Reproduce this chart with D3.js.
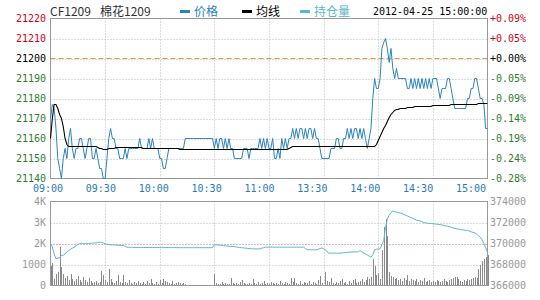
<!DOCTYPE html>
<html lang="zh">
<head>
  <meta charset="UTF-8" />
  <title>CF1209 分时</title>
  <style>
    body { margin: 0; background: #fff; }
    svg { display: block; }
    .mono { font-family: "DejaVu Sans Mono", monospace; font-size: 10px; }
  </style>
  <script src="https://cdn.jsdelivr.net/npm/d3@7"></script>
</head>
<body>
  <div id="chart"></div>

  <script>
    // tick labels
    const timeLabels = ['09:00', '09:30', '10:00', '10:30', '11:00', '13:30', '14:00', '14:30', '15:00'];
    const priceTicks = [21220, 21210, 21200, 21190, 21180, 21170, 21160, 21150, 21140];
    const pctLabels = ['+0.09%', '+0.05%', '+0.00%', '-0.05%', '-0.09%', '-0.14%', '-0.19%', '-0.24%', '-0.28%'];
    const volTicks = [4000, 3000, 2000, 1000, 0];
    const volLabels = ['4K', '3K', '2K', '1000', '0'];
    const oiTicks = [374000, 372000, 370000, 368000, 366000];
    const prevClose = 21200;
    const oiRef = 370000;

    // one value per trading minute, 09:00 .. 11:30 | 13:30 .. 15:00 (241 points)
    const price = [
      21170,21177,21175,21165,21150,21145,21140,21150,21155,21150,
      21160,21165,21155,21150,21155,21155,21160,21160,21155,21150,
      21155,21160,21160,21150,21150,21155,21150,21145,21145,21140,
      21140,21150,21160,21165,21160,21160,21155,21155,21150,21150,
      21150,21155,21150,21155,21155,21155,21155,21155,21155,21160,
      21155,21155,21155,21155,21160,21155,21160,21155,21155,21155,
      21150,21150,21145,21145,21150,21155,21155,21155,21155,21155,
      21155,21155,21155,21155,21160,21160,21160,21160,21160,21160,
      21160,21160,21160,21160,21160,21160,21160,21160,21160,21160,
      21155,21160,21155,21160,21160,21155,21160,21155,21160,21155,
      21155,21150,21150,21150,21150,21150,21155,21155,21155,21150,
      21155,21155,21155,21155,21155,21160,21155,21160,21155,21160,
      21155,21155,21160,21150,21150,21155,21150,21160,21155,21160,
      21155,21160,21160,21165,21160,21165,21160,21165,21165,21160,
      21165,21160,21165,21165,21160,21165,21160,21160,21155,21150,
      21150,21150,21150,21150,21155,21155,21155,21160,21160,21155,
      21155,21160,21160,21165,21160,21165,21160,21165,21165,21160,
      21165,21160,21165,21160,21155,21160,21165,21180,21190,21185,
      21185,21190,21205,21208,21210,21205,21198,21205,21195,21190,
      21195,21190,21190,21190,21190,21190,21185,21185,21190,21185,
      21190,21185,21190,21185,21190,21185,21190,21185,21190,21185,
      21190,21190,21190,21185,21180,21185,21185,21185,21190,21190,
      21185,21180,21175,21175,21175,21175,21175,21175,21175,21180,
      21180,21185,21185,21190,21190,21185,21180,21180,21177,21165,
      21165
    ];

    const avgPrice = [
      21160,21170,21177,21177,21175,21172,21170,21166,21160,21157,
      21156,21156,21156,21156,21156,21156,21156,21156,21156,21156,
      21156,21156,21156,21156,21156,21156,21155.5,21155,21155,21154.5,
      21154.5,21154.5,21155,21155,21155,21155,21155.5,21155.5,21155.5,21155.5,
      21155.5,21155.5,21155.5,21155.5,21155.5,21155.5,21155.5,21155.5,21155.5,21155.5,
      21155.5,21155,21155,21155,21155,21155,21155,21155,21155,21155,
      21155,21155,21155,21155,21155,21155,21155,21155,21155,21155,
      21155,21154.5,21154.5,21154.5,21154.5,21154.5,21154.5,21154.5,21154.5,21154.5,
      21154.5,21154.5,21154.5,21154.5,21154.5,21154.5,21154.5,21154.5,21154.5,21154.5,
      21154.5,21154.5,21154.5,21154.5,21154.5,21154.5,21154.5,21154.5,21154.5,21154.5,
      21154.5,21154.5,21154.5,21154.5,21154.5,21154.5,21154.5,21154.5,21154.5,21154.5,
      21154.5,21154.5,21154.5,21154.5,21154.5,21154.5,21154.5,21154.5,21154.5,21154.5,
      21154.5,21154.5,21154.5,21154.5,21154.5,21154.5,21154.5,21154.5,21154.5,21154.5,
      21154.5,21155,21155.5,21156,21156,21156,21156,21156,21156,21156,
      21156,21156,21156,21156,21156,21156,21156,21156,21156,21156,
      21156,21156,21156,21156,21156,21156,21156,21156,21156,21156,
      21156,21156,21156,21156,21156,21156,21156,21156,21156,21156,
      21156,21156,21156,21156,21156,21156,21156,21156,21156,21157,
      21159,21161,21163,21165,21166.5,21168.5,21170.5,21172,21173,21174,
      21174.5,21174.5,21175,21175,21175,21175,21175.5,21175.5,21175.5,21175.5,
      21176,21176,21176,21176,21176,21176,21176,21176,21176,21176,
      21176.5,21176.5,21176.5,21176.5,21176.5,21176.5,21176.5,21176.5,21176.5,21176.5,
      21177,21177,21177,21177,21177,21177,21177,21177,21177,21177,
      21177,21177,21177,21177,21177,21177.5,21177.5,21177.5,21177.5,21177.5,
      21177.5
    ];

    const openInterest = [
      370000,369700,369000,368550,368600,368650,368850,368880,369000,369200,
      369330,369450,369550,369650,369800,369900,369980,370030,370000,369980,
      369980,370000,370020,370040,370050,370050,370100,370120,370100,370050,
      369980,369920,369900,369880,369870,369860,369850,369840,369820,369810,
      369800,369750,369650,369640,369630,369630,369620,369620,369620,369620,
      369620,369620,369620,369620,369620,369620,369620,369620,369620,369620,
      369610,369610,369610,369610,369610,369610,369610,369610,369610,369610,
      369600,369600,369600,369600,369600,369600,369600,369600,369600,369600,
      369600,369600,369600,369600,369600,369600,369600,369600,369600,369600,
      369870,369860,369850,369840,369820,369800,369780,369760,369740,369720,
      369710,369700,369680,369650,369620,369600,369580,369560,369540,369520,
      369500,369500,369490,369490,369490,369490,369550,369600,369640,369650,
      369650,369650,369650,369650,369650,369650,369650,369650,369650,369650,
      369650,369650,369650,369650,369650,369650,369650,369650,369650,369650,
      369520,369420,369400,369400,369400,369400,369400,369450,369520,369580,
      369500,369400,369200,369080,369080,369080,369080,369080,369080,369080,
      369100,369120,369140,369160,369180,369180,369190,369200,369200,369200,
      369330,369200,369100,369000,368900,368800,368700,368900,369400,369450,
      369480,369500,369900,370290,371500,372350,372700,372950,373080,373050,
      373000,372950,372900,372850,372760,372700,372620,372540,372460,372380,
      372300,372220,372190,372150,372080,372000,371960,371930,371920,371900,
      371880,371860,371840,371820,371800,371760,371720,371680,371640,371600,
      371540,371480,371440,371400,371370,371340,371310,371280,371250,371240,
      371180,371120,371060,371010,370900,370750,370600,370350,370000,369600,
      369170
    ];

    const volume = [
      950,1050,300,560,640,1820,870,560,350,450,
      260,560,320,200,300,450,250,180,400,250,
      150,350,200,100,150,200,120,150,700,500,
      250,150,800,300,150,100,200,480,150,100,
      480,150,100,250,100,80,150,120,200,100,
      80,150,60,200,120,300,100,80,150,60,
      250,120,300,200,150,100,80,200,60,120,
      150,100,80,120,60,0,0,0,0,0,
      0,0,0,0,0,0,0,0,0,0,
      570,120,80,60,150,50,100,80,60,380,
      120,80,100,60,150,250,100,80,60,120,
      80,300,100,60,150,80,120,200,60,100,
      80,150,100,60,120,80,200,100,60,150,
      120,80,355,150,350,100,60,200,80,150,
      120,100,200,80,150,100,60,250,430,120,
      0,635,200,150,380,100,80,150,120,200,
      300,100,150,80,200,120,250,320,100,150,
      200,300,150,250,400,300,400,1240,950,500,
      600,300,1670,2780,3180,2380,650,450,400,300,
      350,250,300,200,350,250,500,200,300,250,
      200,300,150,250,200,350,150,200,250,150,
      200,150,250,200,150,200,300,200,150,250,
      300,350,400,400,300,200,150,250,200,300,
      250,300,350,400,350,800,1000,1190,1270,1350,
      1430
    ];

    const W = 540, H = 300;
    const left = 50.5, right = 487.5;
    const top1 = 18.5, bot1 = 178.5;
    const top2 = 201.5, bot2 = 285.5;

    const blue = '#2a84c0';
    const oiColor = '#5bb6cf';
    const gridColor = '#b8b8b8';
    const frameColor = '#999';
    const up = '#d0021b', down = '#2e7d2e';

    const svg = d3.select('#chart').append('svg')
      .attr('width', W)
      .attr('height', H);

    const x = d3.scaleLinear().domain([0, 240]).range([left, right]);
    const yP = d3.scaleLinear().domain([21140, 21220]).range([bot1, top1]);
    const yV = d3.scaleLinear().domain([0, 4000]).range([bot2, top2]);
    const yO = d3.scaleLinear().domain([366000, 374000]).range([bot2, top2]);
    const xLab = d3.scalePoint().domain(timeLabels).range([48, 471]);
    const gridMinutes = d3.range(30, 240, 30);

    // header
    const head = svg.append('g').attr('font-family', '"Noto Sans CJK SC", sans-serif').attr('font-size', 12);
    head.append('text').attr('x', 50).attr('y', 16).attr('fill', '#333').text('CF1209');
    head.append('text').attr('x', 100).attr('y', 16).attr('fill', '#333').text('棉花1209');

    const legend = [
      { name: '价格', color: blue, x: 180 },
      { name: '均线', color: '#000', x: 242 },
      { name: '持仓量', color: oiColor, x: 300 }
    ];
    legend.forEach(d => {
      head.append('rect').attr('x', d.x).attr('y', 10).attr('width', 10).attr('height', 3).attr('fill', d.color);
      head.append('text').attr('x', d.x + 14).attr('y', 16).attr('fill', d.color).text(d.name);
    });
    svg.append('text').attr('class', 'mono').attr('x', 373).attr('y', 15).attr('fill', '#000')
      .text('2012-04-25 15:00:00');

    // upper panel grid
    const g1 = svg.append('g');
    g1.selectAll('line.hg').data(priceTicks.slice(1, -1)).join('line')
      .attr('x1', left).attr('x2', right)
      .attr('y1', d => Math.round(yP(d)) + 0.5).attr('y2', d => Math.round(yP(d)) + 0.5)
      .attr('stroke', gridColor).attr('stroke-dasharray', '1,2');
    g1.selectAll('line.vg').data(gridMinutes).join('line')
      .attr('x1', d => Math.round(x(d)) + 0.5).attr('x2', d => Math.round(x(d)) + 0.5)
      .attr('y1', top1).attr('y2', bot1)
      .attr('stroke', gridColor).attr('stroke-dasharray', '1,2');
    g1.append('line')
      .attr('x1', left).attr('x2', right)
      .attr('y1', yP(prevClose)).attr('y2', yP(prevClose))
      .attr('stroke', '#e59a2c').attr('stroke-dasharray', '5,3');
    g1.append('rect').attr('x', left).attr('y', top1).attr('width', right - left).attr('height', bot1 - top1)
      .attr('fill', 'none').attr('stroke', frameColor);

    // price and average lines
    const idx = d3.range(price.length);
    g1.append('path').datum(idx)
      .attr('d', d3.line().x(i => x(i)).y(i => yP(price[i])))
      .attr('fill', 'none').attr('stroke', blue).attr('stroke-width', 1);
    g1.append('path').datum(idx)
      .attr('d', d3.line().x(i => x(i)).y(i => yP(avgPrice[i])))
      .attr('fill', 'none').attr('stroke', '#000').attr('stroke-width', 1.1);

    // upper axis labels
    const colorFor = v => v > prevClose ? up : (v < prevClose ? down : '#000');
    svg.append('g').attr('class', 'mono')
      .selectAll('text').data(priceTicks).join('text')
      .attr('x', 46).attr('y', d => yP(d)).attr('dy', '0.32em')
      .attr('text-anchor', 'end').attr('fill', colorFor).text(d => d);
    svg.append('g').attr('class', 'mono')
      .selectAll('text').data(priceTicks).join('text')
      .attr('x', 490).attr('y', d => yP(d)).attr('dy', '0.32em')
      .attr('fill', colorFor).text((d, i) => pctLabels[i]);

    // time labels
    svg.append('g').attr('class', 'mono')
      .selectAll('text').data(timeLabels).join('text')
      .attr('x', d => xLab(d)).attr('y', 192)
      .attr('text-anchor', 'middle').attr('fill', '#2a7ab0').text(d => d);

    // lower panel
    const g2 = svg.append('g');
    g2.selectAll('line.hg').data(volTicks.slice(1, -1)).join('line')
      .attr('x1', left).attr('x2', right)
      .attr('y1', d => Math.round(yV(d)) + 0.5).attr('y2', d => Math.round(yV(d)) + 0.5)
      .attr('stroke', gridColor).attr('stroke-dasharray', '1,2');
    g2.selectAll('line.vg').data(gridMinutes).join('line')
      .attr('x1', d => Math.round(x(d)) + 0.5).attr('x2', d => Math.round(x(d)) + 0.5)
      .attr('y1', top2).attr('y2', bot2)
      .attr('stroke', gridColor).attr('stroke-dasharray', '1,2');
    g2.append('line')
      .attr('x1', left).attr('x2', right)
      .attr('y1', Math.round(yO(oiRef)) + 0.5).attr('y2', Math.round(yO(oiRef)) + 0.5)
      .attr('stroke', '#d88fc8').attr('stroke-dasharray', '1,2');

    g2.selectAll('line.bar').data(idx).join('line')
      .attr('x1', i => Math.round(x(i)) + 0.5).attr('x2', i => Math.round(x(i)) + 0.5)
      .attr('y1', bot2).attr('y2', i => yV(volume[i]))
      .attr('stroke', '#8a8a8a').attr('stroke-width', 1)
      .attr('shape-rendering', 'crispEdges');

    g2.append('path').datum(idx)
      .attr('d', d3.line().x(i => x(i)).y(i => yO(openInterest[i])))
      .attr('fill', 'none').attr('stroke', oiColor).attr('stroke-width', 1);

    g2.append('rect').attr('x', left).attr('y', top2).attr('width', right - left).attr('height', bot2 - top2)
      .attr('fill', 'none').attr('stroke', frameColor);

    svg.append('g').attr('class', 'mono')
      .selectAll('text').data(volTicks).join('text')
      .attr('x', 46).attr('y', d => yV(d)).attr('dy', '0.32em')
      .attr('text-anchor', 'end').attr('fill', '#999').text((d, i) => volLabels[i]);
    svg.append('g').attr('class', 'mono')
      .selectAll('text').data(oiTicks).join('text')
      .attr('x', 490).attr('y', d => yO(d)).attr('dy', '0.32em')
      .attr('fill', '#999').text(d => d);
  </script>
</body>
</html>
